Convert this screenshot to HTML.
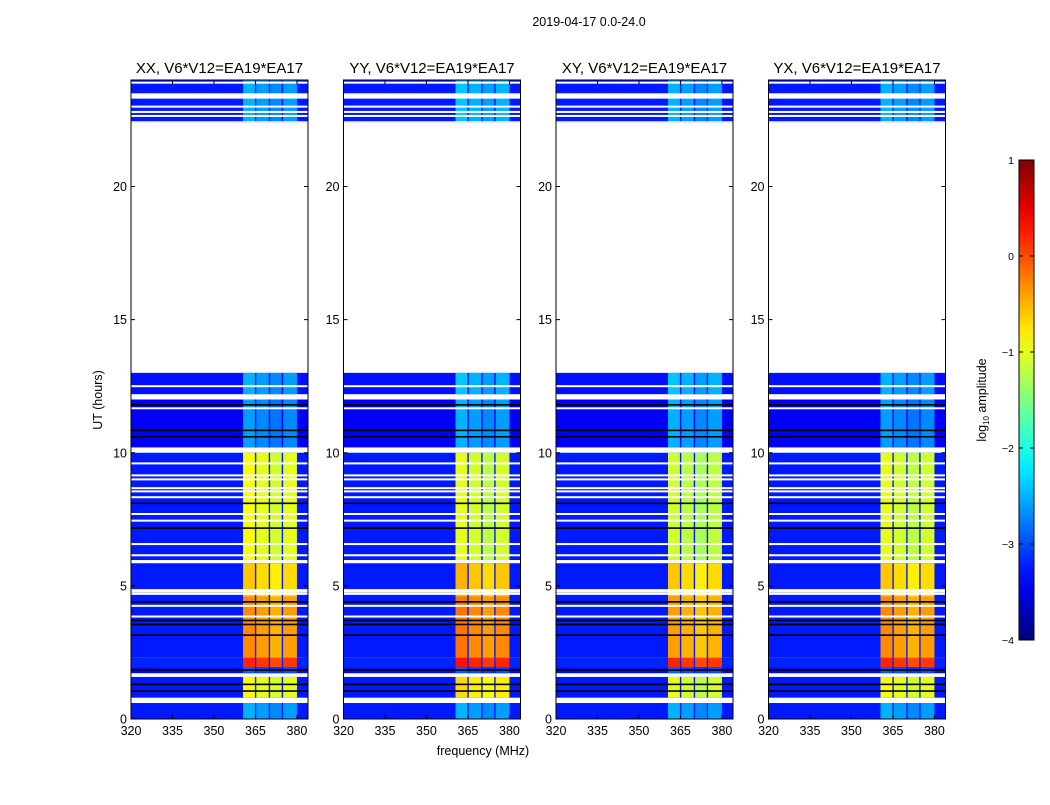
<!DOCTYPE html>
<html><head><meta charset="utf-8"><style>
body{margin:0;background:#fff;}
svg text{font-family:"Liberation Sans",sans-serif;fill:#000;}
</style></head><body>
<svg id="fig" width="1050" height="800" viewBox="0 0 1050 800">
<text x="589" y="26" font-size="12.5" text-anchor="middle">2019-04-17 0.0-24.0</text>
<text x="483" y="755" font-size="12.5" text-anchor="middle">frequency (MHz)</text>
<text x="102" y="400" font-size="12.5" text-anchor="middle" transform="rotate(-90 102 400)">UT (hours)</text>
<g id="plots"></g>
<g id="cbar"></g>
</svg>
<script>
// ---- data ----
const panelTitles = ["XX, V6*V12=EA19*EA17","YY, V6*V12=EA19*EA17","XY, V6*V12=EA19*EA17","YX, V6*V12=EA19*EA17"];
const segStart = [0.0, 0.8, 1.72, 1.95, 2.3, 4.6, 5.97, 10.2, 12.2, 22.4];
const segEnd   = [0.6, 1.58, 1.95, 2.3, 4.6, 5.85, 10.0, 12.0, 13.0, 24.0];
const segBg    = [-3.25, -3.25, -3.35, -3.2, -3.25, -3.25, -3.25, -3.4, -3.3, -3.25];
const hiXX = [-2.6, -1.0, -3.0, 0.1, -0.4, -0.7, -1.0, -2.7, -2.6, -2.6];
const hiYY = [-2.6, -0.8, -3.0, 0.2, -0.3, -0.6, -1.1, -2.6, -2.5, -2.5];
const hiXY = [-2.6, -1.1, -3.0, 0.1, -0.5, -0.7, -1.2, -2.6, -2.5, -2.6];
const hiYX = [-2.6, -1.0, -3.0, 0.1, -0.4, -0.7, -1.1, -2.7, -2.6, -2.6];
const panelHi = [hiXX, hiYY, hiXY, hiYX];
const colFreqStart = [360.5, 365.3, 370.3, 375.0];
const colFreqEnd   = [364.8, 369.8, 374.5, 380.0];
const colOffset    = [0.1, 0.0, -0.1, 0.0];
const whiteLines = [9.6, 9.15, 9.0, 8.67, 8.55, 8.33, 7.7, 7.45, 6.57, 6.15, 4.84, 4.78, 4.7, 4.25, 3.85, 12.5, 11.67, 22.8, 22.65, 23.0, 23.9];
const blackLines = [11.8, 10.84, 10.6, 8.1, 7.17, 4.4, 3.7, 3.55, 3.15, 1.84, 1.3, 1.05];
const whiteBands = [[22.4,22.45],[23.3,23.5]];
const xTicks = [320, 335, 350, 365, 380];
const yTicks = [0, 5, 10, 15, 20];
const cbTicks = [1, 0, -1, -2, -3, -4];

// ---- helpers ----
const NS = "http://www.w3.org/2000/svg";
function jet(L){
  let v = Math.max(0, Math.min(1, (L + 4) / 5));
  const f = (x)=>Math.max(0, Math.min(1, x));
  const r = f(Math.min(4*v - 1.5, -4*v + 4.5));
  const g = f(Math.min(4*v - 0.5, -4*v + 3.5));
  const b = f(Math.min(4*v + 0.5, -4*v + 2.5));
  return `rgb(${Math.round(r*255)},${Math.round(g*255)},${Math.round(b*255)})`;
}
function mk(tag, attrs, parent){
  const e = document.createElementNS(NS, tag);
  for (const k in attrs) e.setAttribute(k, attrs[k]);
  parent.appendChild(e);
  return e;
}
const plots = document.getElementById("plots");
const panelX = [131, 343.5, 556, 768.5];
const PW = 177, PT = 80, PB = 719;
const fmin = 320, fmax = 384, tmin = 0, tmax = 24;

panelX.forEach((x0, p) => {
  const xs = f => x0 + (f - fmin) / (fmax - fmin) * PW;
  const ys = t => PB - (t - tmin) / (tmax - tmin) * (PB - PT);
  const g = mk("g", {}, plots);
  
  
  const hm = mk("g", {}, g);
  
  
  for (let i = 0; i < segStart.length; i++) {
    const r = mk("rect", {x: xs(fmin), y: ys(segEnd[i]), width: PW, height: ys(segStart[i]) - ys(segEnd[i]), fill: jet(segBg[i])}, hm);
    
    
    for (let c = 0; c < colFreqStart.length; c++) {
      const cell = mk("rect", {x: xs(colFreqStart[c]), y: ys(segEnd[i]), width: xs(colFreqEnd[c]) - xs(colFreqStart[c]), height: ys(segStart[i]) - ys(segEnd[i]), fill: jet(panelHi[p][i] + colOffset[c])}, hm);
      
      
    }
  }
  blackLines.forEach(t => {
    const l = mk("rect", {x: x0, y: ys(t) - 0.8, width: PW, height: 1.6, fill: "#000"}, hm);
    
    
  });
  whiteLines.forEach(t => {
    const l = mk("rect", {x: x0, y: ys(t) - 1, width: PW, height: 2, fill: "#fff"}, hm);
    
    
  });
  whiteBands.forEach(b => {
    const l = mk("rect", {x: x0, y: ys(b[1]), width: PW, height: ys(b[0]) - ys(b[1]), fill: "#fff"}, hm);
    
    
  });
  const fr = mk("rect", {x: x0, y: PT, width: PW, height: PB - PT, fill: "none", stroke: "#000", "stroke-width": 1}, g);
  
  
  const tt = mk("text", {x: x0 + PW/2, y: 73, "font-size": 15, "text-anchor": "middle"}, g);
  tt.textContent = panelTitles[p];
  
  
  xTicks.forEach(f => {
    const X = xs(f);
    mk("line", {x1: X, x2: X, y1: PB, y2: PB - 4, stroke: "#000"}, g);
    mk("line", {x1: X, x2: X, y1: PT, y2: PT + 4, stroke: "#000"}, g);
    const t = mk("text", {x: X, y: PB + 16, "font-size": 12.5, "text-anchor": "middle"}, g);
    t.textContent = f;
    
    
  });
  yTicks.forEach(v => {
    const Y = ys(v);
    mk("line", {x1: x0, x2: x0 + 4, y1: Y, y2: Y, stroke: "#000"}, g);
    mk("line", {x1: x0 + PW, x2: x0 + PW - 4, y1: Y, y2: Y, stroke: "#000"}, g);
    const t = mk("text", {x: x0 - 4, y: Y + 4.5, "font-size": 12.5, "text-anchor": "end"}, g);
    t.textContent = v;
    
    
  });
});

const cb = document.getElementById("cbar");
const CBX = 1019, CBW = 15, CBT = 160, CBB = 640;
const defs = mk("defs", {}, cb);
const grad = mk("linearGradient", {id: "jetg", x1: 0, y1: 1, x2: 0, y2: 0}, defs);
for (let i = 0; i <= 20; i++) {
  mk("stop", {offset: i/20, "stop-color": jet(-4 + 5*i/20)}, grad);
}
const cbr = mk("rect", {x: CBX, y: CBT, width: CBW, height: CBB - CBT, fill: "url(#jetg)", stroke: "#000", "stroke-width": 1}, cb);


cbTicks.forEach(v => {
  const Y = CBB - (v + 4) / 5 * (CBB - CBT);
  mk("line", {x1: CBX, x2: CBX + 4, y1: Y, y2: Y, stroke: "#000"}, cb);
  mk("line", {x1: CBX + CBW, x2: CBX + CBW - 4, y1: Y, y2: Y, stroke: "#000"}, cb);
  const t = mk("text", {x: CBX - 5, y: Y + 4, "font-size": 10.5, "text-anchor": "end"}, cb);
  t.textContent = v < 0 ? "\u2212" + (-v) : String(v);
  
  
});
const cl = mk("text", {x: 986, y: 400, "font-size": 12.5, "text-anchor": "middle", transform: "rotate(-90 986 400)"}, cb);
cl.innerHTML = 'log<tspan font-size="8" dy="3">10</tspan><tspan dy="-3"> amplitude</tspan>';


</script>
</body></html>
